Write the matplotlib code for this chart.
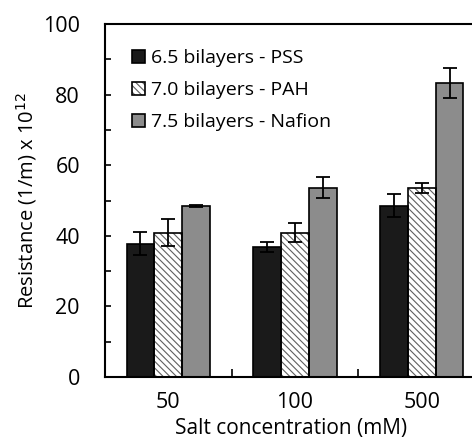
import numpy as np
import matplotlib.pyplot as plt
from matplotlib.ticker import MultipleLocator
from matplotlib.patches import Patch
from matplotlib.legend_handler import HandlerTuple

plt.rcParams['font.family'] = ['Open Sans', 'DejaVu Sans']
plt.rcParams['hatch.linewidth'] = 0.8

categories = ['50', '100', '500']
series_names = ['6.5 bilayers - PSS', '7.0 bilayers - PAH', '7.5 bilayers - Nafion']
pss = [37.8, 36.8, 48.5]
pss_err = [3.2, 1.4, 3.3]
pah = [40.9, 40.9, 53.6]
pah_err = [3.9, 2.7, 1.4]
nafion = [48.5, 53.6, 83.2]
nafion_err = [0.3, 3.0, 4.2]

fig = plt.figure(figsize=(4.72, 4.43), dpi=100)
ax = fig.add_axes([105 / 472, 66 / 443, 380 / 472, 353 / 443])

x = np.arange(len(categories))
w = 0.22
fills = ['#1a1a1a', 'white', '#8c8c8c']
hatches = [None, '\\\\\\\\\\', None]
handles = []
for i, (vals, errs) in enumerate([(pss, pss_err), (pah, pah_err), (nafion, nafion_err)]):
    xs = x + (i - 1) * w
    # fill + hatch (hatch drawn in grey), then black outline on top
    ax.bar(xs, vals, w, color=fills[i], hatch=hatches[i], edgecolor='#606060',
           linewidth=0, zorder=2)
    ax.bar(xs, vals, w, fill=False, edgecolor='black', linewidth=1.2,
           yerr=errs, capsize=5,
           error_kw=dict(elinewidth=1.3, capthick=1.3, ecolor='black'), zorder=3)
    handles.append((Patch(facecolor=fills[i], hatch=hatches[i], edgecolor='#606060', linewidth=0),
                    Patch(fill=False, edgecolor='black', linewidth=1.2)))

ax.set_xlim(-0.5, 2.5)
ax.set_ylim(0, 100)
ax.yaxis.set_major_locator(MultipleLocator(20))
ax.yaxis.set_minor_locator(MultipleLocator(10))
ax.tick_params(axis='y', which='both', direction='in', length=4, width=1.2,
               labelsize=15.5, pad=18)
ax.set_xticks(x)
ax.set_xticklabels(categories, fontsize=15.5)
ax.set_xticks([0.5, 1.5], minor=True)
ax.tick_params(axis='x', which='major', length=0, pad=11)
ax.tick_params(axis='x', which='minor', direction='in', length=6, width=1.2)
for s in ax.spines.values():
    s.set_linewidth(1.5)

ax.set_ylabel('Resistance (1/m) x 10$^{12}$', fontsize=14.5, labelpad=3)
ax.set_xlabel('Salt concentration (mM)', fontsize=15, labelpad=0)
ax.xaxis.set_label_coords(0.49, -0.117)

ax.legend(handles, series_names, handler_map={tuple: HandlerTuple(ndivide=1, pad=0)},
          loc='upper left', bbox_to_anchor=(0.05, 0.95), frameon=False,
          fontsize=14, handlelength=0.7, handleheight=0.7,
          handletextpad=0.3, labelspacing=0.72, borderaxespad=0)

fig.savefig('out.png', dpi=100)
